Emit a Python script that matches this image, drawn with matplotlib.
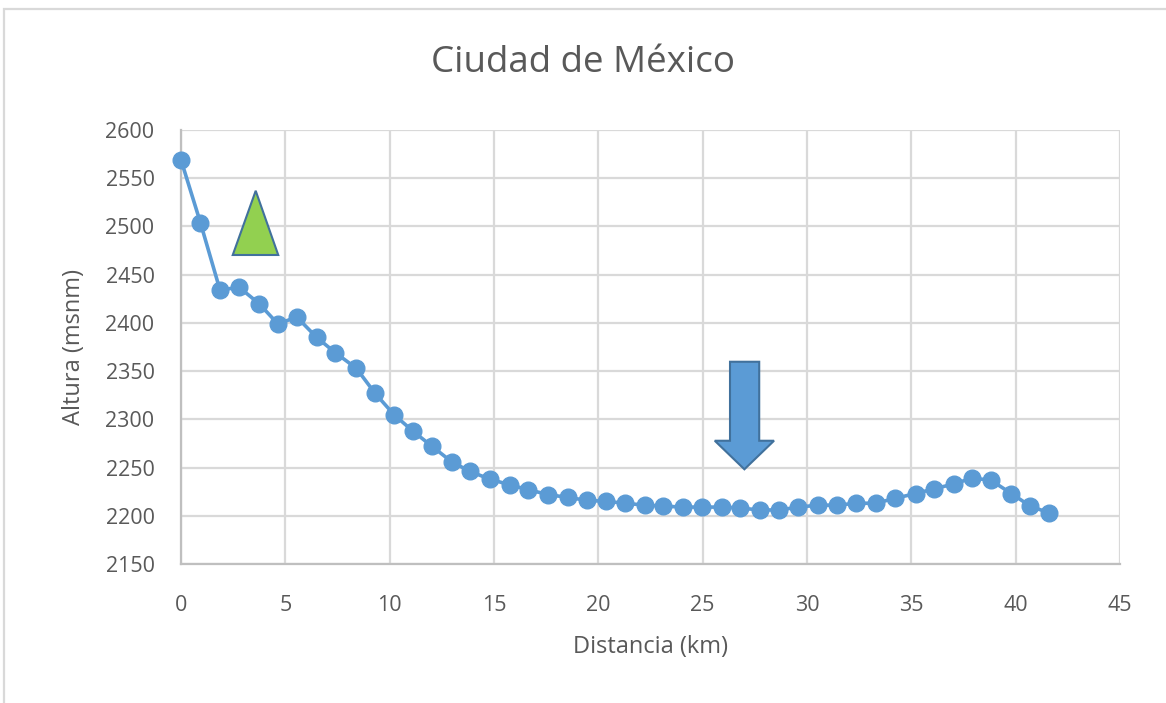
import matplotlib
matplotlib.use("Agg")
import matplotlib.pyplot as plt
from matplotlib.patches import Polygon, Rectangle

plt.rcParams['font.family'] = ['Open Sans', 'DejaVu Sans']

title = "Ciudad de México"
xlabel = "Distancia (km)"
ylabel = "Altura (msnm)"

distancia = [0.0, 0.93, 1.87, 2.78, 3.74, 4.64, 5.55, 6.50, 7.40, 8.40,
             9.30, 10.20, 11.10, 12.03, 12.97, 13.85, 14.80, 15.77, 16.64, 17.60,
             18.53, 19.47, 20.36, 21.28, 22.23, 23.10, 24.07, 24.96, 25.93, 26.80,
             27.75, 28.67, 29.58, 30.54, 31.45, 32.35, 33.30, 34.20, 35.20, 36.10,
             37.04, 37.90, 38.80, 39.80, 40.70, 41.60]
altura = [2569, 2504, 2434, 2437, 2420, 2399, 2406, 2385, 2369, 2353,
          2327, 2305, 2288, 2272, 2256, 2246, 2238, 2232, 2227, 2222,
          2219, 2216, 2215, 2213, 2211, 2210, 2209, 2209, 2209, 2208,
          2206, 2206, 2209, 2211, 2211, 2213, 2213, 2218, 2223, 2228,
          2233, 2239, 2237, 2223, 2210, 2203]

x_ticks = [0, 5, 10, 15, 20, 25, 30, 35, 40, 45]
y_ticks = [2150, 2200, 2250, 2300, 2350, 2400, 2450, 2500, 2550, 2600]

# annotation shapes (data coordinates)
triangle_pts = [(2.48, 2470.4), (3.58, 2537.0), (4.66, 2470.4)]
arrow_pts = [(26.31, 2359.7), (27.71, 2359.7), (27.71, 2277.8), (28.42, 2277.8),
             (27.0, 2248.2), (25.58, 2277.8), (26.31, 2277.8)]

W, H = 1166, 703
fig = plt.figure(figsize=(W / 100, H / 100), dpi=100)
ax = fig.add_axes([181 / W, 1 - 564 / H, (1120 - 181) / W, (564 - 130) / H])

text_col = '#595959'
grid_col = '#D9D9D9'
line_col = '#5B9BD5'

ax.plot(distancia, altura, color=line_col, lw=2.6, marker='o', ms=12,
        markerfacecolor=line_col, markeredgecolor=line_col, zorder=3, clip_on=False)

ax.add_patch(Polygon(triangle_pts, closed=True, facecolor='#92D050',
                     edgecolor='#41719C', lw=1.5, zorder=4))
ax.add_patch(Polygon(arrow_pts, closed=True, facecolor='#5B9BD5',
                     edgecolor='#41719C', lw=1.5, zorder=4))

ax.set_xlim(0, 45)
ax.set_ylim(2150, 2600)
ax.set_xticks(x_ticks)
ax.set_yticks(y_ticks)
ax.grid(True, color=grid_col, lw=1.6, zorder=0)
ax.set_axisbelow(True)
for s in ['top', 'right']:
    ax.spines[s].set_visible(False)
for s in ['left', 'bottom']:
    ax.spines[s].set_color('#BFBFBF')
    ax.spines[s].set_linewidth(1.6)
ax.tick_params(length=0, labelsize=15.5, colors=text_col)
ax.tick_params(axis='y', pad=19)
ax.tick_params(axis='x', pad=22)

ax.set_xlabel(xlabel, fontsize=17, color=text_col, labelpad=14)
ax.set_ylabel(ylabel, fontsize=17, color=text_col, labelpad=14)
fig.text(583 / W, 1 - 63 / H, title, fontsize=26.5, color=text_col,
         ha='center', va='center')

# outer chart frame
fig.patches.append(Rectangle((3.5 / W, -0.1), 1.2, 1 - 8.5 / H + 0.1,
                             transform=fig.transFigure, fill=False,
                             edgecolor='#D9D9D9', lw=1.6))

fig.savefig('out.png', dpi=100)
